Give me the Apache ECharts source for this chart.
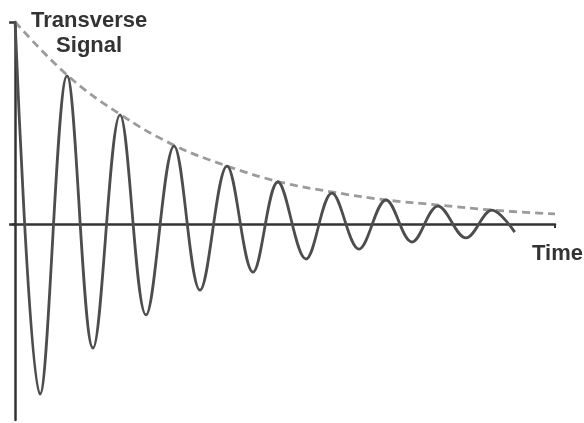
<!DOCTYPE html>
<html>
<head>
<meta charset="utf-8">
<script src="https://cdn.jsdelivr.net/npm/echarts@6/dist/echarts.min.js"></script>
<style>html,body{margin:0;padding:0;background:#fff}#c{width:584px;height:423px}</style>
</head>
<body>
<div id="c"></div>
<script>
// Damped oscillation: alternating peaks and troughs, then the line's end
var signalTime  = [0, 0.47, 0.98, 1.47, 1.98, 2.47, 3.0, 3.49, 4.0, 4.49, 4.96, 5.49, 5.98, 6.49, 7.0, 7.49, 7.98, 8.51, 9.0, 9.43];
var signalValue = [1.0, -0.842, 0.733, -0.614, 0.54, -0.45, 0.386, -0.327, 0.287, -0.238, 0.208, -0.173, 0.153, -0.124, 0.119, -0.089, 0.089, -0.069, 0.069, -0.04];
// Dashed envelope
var envTime  = [0, 1, 2, 3, 4, 5, 6, 7, 8, 9, 10.19];
var envValue = [1.0, 0.733, 0.54, 0.39, 0.287, 0.208, 0.158, 0.119, 0.094, 0.069, 0.05];
// Axis range and tick marks
var xRange = [-0.04, 10.19];
var yRange = [-0.97, 1.0];
var yTicks = [0, 1.0];
var xTicks = [10.19];
// Labels
var yLabel = "Transverse\nSignal";
var xLabel = "Time";

function pairs(xs, ys) { return xs.map(function (x, i) { return [x, ys[i]]; }); }

var chart = echarts.init(document.getElementById('c'), null, {renderer: 'canvas'});
chart.setOption({
  animation: false,
  backgroundColor: '#ffffff',
  grid: {left: 13, right: 29, top: 22, bottom: 3},
  xAxis: {
    type: 'value', min: xRange[0], max: xRange[1],
    axisLine: {show: true, onZero: true, lineStyle: {color: '#333', width: 2.5}},
    axisTick: {show: true, customValues: xTicks, length: 4, inside: false, lineStyle: {color: '#333', width: 2}},
    axisLabel: {show: false}, splitLine: {show: false}
  },
  yAxis: {
    type: 'value', min: yRange[0], max: yRange[1],
    axisLine: {show: true, lineStyle: {color: '#333', width: 2.5}},
    axisTick: {show: true, customValues: yTicks, length: 6, inside: false, lineStyle: {color: '#333', width: 2.5}},
    axisLabel: {show: false}, splitLine: {show: false}
  },
  graphic: [
    {type: 'text', left: 31, top: 8, style: {text: yLabel, fill: '#333', font: 'bold 22px "Liberation Sans", Arial, sans-serif', textAlign: 'center', lineHeight: 25}},
    {type: 'text', left: 532, top: 243, style: {text: xLabel, fill: '#333', font: 'bold 22px "Liberation Sans", Arial, sans-serif'}}
  ],
  series: [
    {
      type: 'line', data: pairs(envTime, envValue), smooth: 0.4, symbol: 'none', clip: false,
      lineStyle: {color: '#9b9b9b', width: 2.8, type: [8, 5]}, z: 2
    },
    {
      type: 'line', data: pairs(signalTime, signalValue), smooth: 0.36, symbol: 'none', clip: false,
      lineStyle: {color: '#4d4d4d', width: 2.8}, z: 3
    }
  ]
});
</script>
</body>
</html>
